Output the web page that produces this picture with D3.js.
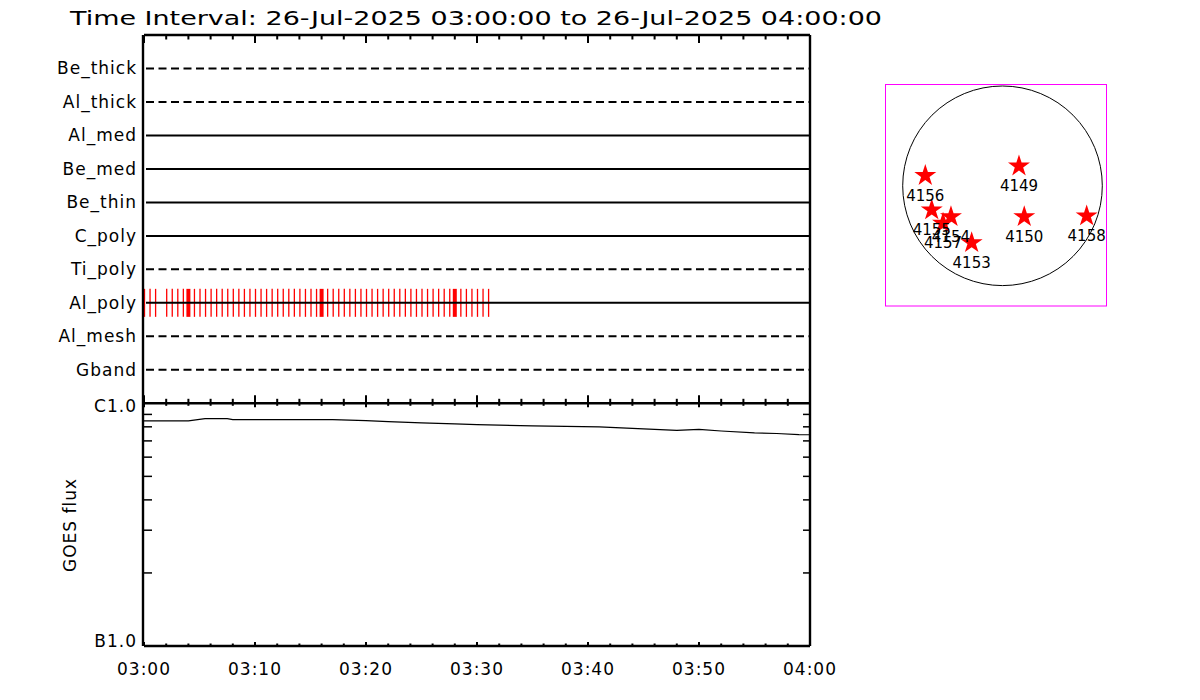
<!DOCTYPE html>
<html><head><meta charset="utf-8">
<script src="https://cdn.jsdelivr.net/npm/d3@7"></script>
<style>body{margin:0;background:#fff}svg{display:block}text{font-family:"DejaVu Sans",sans-serif;fill:#000}</style>
</head><body><svg id="c" width="1200" height="700"></svg>
<script>
// ---------- data ----------
const titleText = "Time Interval: 26-Jul-2025 03:00:00 to 26-Jul-2025 04:00:00";
const filters = ["Be_thick","Al_thick","Al_med","Be_med","Be_thin","C_poly","Ti_poly","Al_poly","Al_mesh","Gband"];
const filterInUse = [0,0,1,1,1,1,0,1,0,0];
const exposureFilter = "Al_poly";
const shortExposures = ["03:00:00","03:00:30","03:01:00","03:02:00","03:02:30","03:03:00","03:03:30",
 "03:04:30","03:05:00","03:05:30","03:06:00","03:06:30","03:07:00","03:07:30","03:08:00","03:08:30","03:09:00","03:09:30",
 "03:10:00","03:10:30","03:11:00","03:11:30","03:12:00","03:12:30","03:13:00","03:13:30","03:14:00","03:14:30","03:15:00","03:15:30",
 "03:16:30","03:17:00","03:17:30","03:18:00","03:18:30","03:19:00","03:19:30","03:20:00","03:20:30","03:21:00","03:21:30",
 "03:22:00","03:22:30","03:23:00","03:23:30","03:24:00","03:24:30","03:25:00","03:25:30","03:26:00","03:26:30","03:27:00","03:27:30",
 "03:28:30","03:29:00","03:29:30","03:30:00","03:30:30","03:31:00"];
const longExposures = ["03:04:00","03:16:00","03:28:00"];
const xTickLabels = ["03:00","03:10","03:20","03:30","03:40","03:50","04:00"];
const goesTimes = ["03:00","03:02","03:04","03:05:30","03:07:30","03:08","03:16","03:17","03:20","03:22","03:25","03:28","03:30","03:35","03:41","03:45","03:48","03:50","03:52","03:55","03:57","03:59","04:00"];
const goesFlux = [8.46e-7,8.46e-7,8.47e-7,8.65e-7,8.65e-7,8.57e-7,8.57e-7,8.56e-7,8.49e-7,8.41e-7,8.30e-7,8.22e-7,8.17e-7,8.07e-7,7.99e-7,7.85e-7,7.74e-7,7.81e-7,7.69e-7,7.55e-7,7.51e-7,7.43e-7,7.42e-7];
const goesTickValues = [1e-7,1e-6];
const goesTickLabels = ["B1.0","C1.0"];
const arNumbers = ["4149","4156","4155","4154","4157","4153","4150","4158"];
const arX = [156,-731,-670,-488,-563,-292,206,797];     // arcsec
const arY = [187,96,-229,-293,-355,-539,-293,-286];     // arcsec
const solarRadius = 945;

// ---------- layout ----------
const svg = d3.select("#c");
const L = 144, R = 810, T = 35, M = 403.3, B = 646;
const parse = d3.timeParse("%H:%M:%S");
const pt = s => parse(s.length === 5 ? s + ":00" : s);
const x = d3.scaleTime().domain([pt("03:00"), pt("04:00")]).range([L, R]);
const yF = d3.scalePoint().domain(filters).range([T, M]).padding(1);
const yG = d3.scaleLog().domain([1e-7, 1e-6]).range([B, M]);

svg.append("text").attr("x", 70).attr("y", 25).attr("font-size", 20)
  .attr("textLength", 812).attr("lengthAdjust", "spacingAndGlyphs").text(titleText);

// exposure ticks (red)
const gE = svg.append("g");
gE.selectAll("line.s").data(shortExposures).join("line")
  .attr("x1", d => x(pt(d)) + 0.5).attr("x2", d => x(pt(d)) + 0.5)
  .attr("y1", yF(exposureFilter) - 14).attr("y2", yF(exposureFilter) + 14)
  .attr("stroke", "#ff0000").attr("stroke-width", 1.3);
gE.selectAll("line.l").data(longExposures).join("line")
  .attr("x1", d => x(pt(d))).attr("x2", d => x(pt(d)))
  .attr("y1", yF(exposureFilter) - 14).attr("y2", yF(exposureFilter) + 14)
  .attr("stroke", "#ff0000").attr("stroke-width", 4);

// filter rows
svg.append("g").selectAll("line").data(filters).join("line")
  .attr("x1", L + 2).attr("x2", R - 1)
  .attr("y1", d => yF(d)).attr("y2", d => yF(d))
  .attr("stroke", "#000").attr("stroke-width", 2)
  .attr("stroke-dasharray", (d, i) => filterInUse[i] ? null : "8,4.5");
svg.append("g").selectAll("text").data(filters).join("text")
  .attr("x", 137).attr("y", d => yF(d) + 6).attr("text-anchor", "end")
  .attr("font-size", 17).attr("letter-spacing", 1).text(d => d);

// GOES curve
const line = d3.line().x((d, i) => x(pt(goesTimes[i]))).y(d => yG(d));
svg.append("path").datum(goesFlux).attr("d", line)
  .attr("fill", "none").attr("stroke", "#000").attr("stroke-width", 1.2);

// x ticks
const minor = d3.timeMinute.every(2).range(pt("03:00"), pt("04:00:01"));
function xticks(y, dir, lenMaj, lenMin) {
  svg.append("g").selectAll("line").data(minor).join("line")
    .attr("x1", d => x(d)).attr("x2", d => x(d))
    .attr("y1", y).attr("y2", d => y + dir * (d.getMinutes() % 10 === 0 ? lenMaj : lenMin))
    .attr("stroke", "#000").attr("stroke-width", 2);
}
xticks(T, 1, 8, 4.5);
xticks(M, -1, 8, 4.5);
xticks(M, 1, 4, 2.5);
xticks(B, -1, 4, 2.5);

// GOES y ticks
const yMinor = [2e-7,3e-7,4e-7,5e-7,6e-7,7e-7,8e-7,9e-7];
svg.append("g").selectAll("line").data(yMinor).join("line")
  .attr("x1", L).attr("x2", L + 8).attr("y1", d => yG(d)).attr("y2", d => yG(d))
  .attr("stroke", "#000").attr("stroke-width", 1.5);
svg.append("g").selectAll("line").data(yMinor).join("line")
  .attr("x1", R).attr("x2", R - 7).attr("y1", d => yG(d)).attr("y2", d => yG(d))
  .attr("stroke", "#000").attr("stroke-width", 1.5);
svg.append("g").selectAll("text").data(goesTickValues).join("text")
  .attr("x", 137).attr("y", (d, i) => i === 0 ? yG(d) + 1 : yG(d) + 9)
  .attr("text-anchor", "end").attr("font-size", 17).attr("letter-spacing", 1)
  .text((d, i) => goesTickLabels[i]);
svg.append("text").attr("transform", "translate(76,525) rotate(-90)")
  .attr("text-anchor", "middle").attr("font-size", 17).attr("letter-spacing", 1).text("GOES flux");

// frame
const fr = svg.append("g").attr("stroke", "#000").attr("stroke-width", 2.4).attr("fill", "none");
fr.append("line").attr("x1", L - 1).attr("x2", L - 1).attr("y1", T).attr("y2", B);
fr.append("line").attr("x1", R).attr("x2", R).attr("y1", T).attr("y2", B);
fr.append("line").attr("x1", L).attr("x2", R).attr("y1", T).attr("y2", T);
fr.append("line").attr("x1", L).attr("x2", R).attr("y1", M).attr("y2", M);
fr.append("line").attr("x1", L).attr("x2", R).attr("y1", B).attr("y2", B);

// x labels
svg.append("g").selectAll("text").data(xTickLabels).join("text")
  .attr("x", d => x(pt(d))).attr("y", 675).attr("text-anchor", "middle")
  .attr("font-size", 17).attr("letter-spacing", 1).text(d => d);

// sun panel
const sx = d3.scaleLinear().domain([-solarRadius, solarRadius]).range([902.7, 1102.3]);
const sy = d3.scaleLinear().domain([-solarRadius, solarRadius]).range([285.6, 86]);
svg.append("rect").attr("x", 885.5).attr("y", 84.5).attr("width", 221).attr("height", 221.5)
  .attr("fill", "none").attr("stroke", "#ff00ff").attr("stroke-width", 1);
svg.append("circle").attr("cx", sx(0)).attr("cy", sy(0)).attr("r", sx(solarRadius) - sx(0))
  .attr("fill", "none").attr("stroke", "#000").attr("stroke-width", 1);
const star = d3.symbol(d3.symbolStar).size(150);
const order = [4, 0, 1, 2, 3, 5, 6, 7];
svg.append("g").selectAll("path").data(order).join("path")
  .attr("d", star).attr("transform", i => `translate(${sx(arX[i])},${sy(arY[i])})`)
  .attr("fill", "#ff0000");
svg.append("g").selectAll("text").data(arNumbers).join("text")
  .attr("x", (d, i) => sx(arX[i])).attr("y", (d, i) => sy(arY[i]) + 25)
  .attr("text-anchor", "middle").attr("font-size", 15).text(d => d);
</script></body></html>
